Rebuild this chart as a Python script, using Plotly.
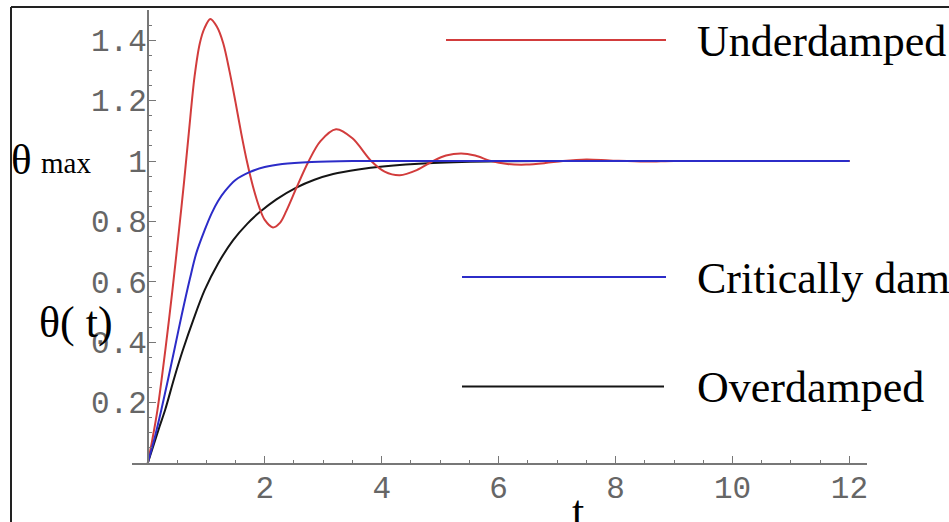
import plotly.graph_objects as go

# ---- data ----
t_under = [0, 0.08, 0.165, 0.30, 0.42, 0.536, 0.62, 0.70, 0.80, 0.89, 0.97, 1.07, 1.18, 1.29, 1.40,
           1.50, 1.60, 1.70, 1.80, 1.91, 2.00, 2.14, 2.26, 2.37, 2.54, 2.74, 2.95, 3.22, 3.5,
           3.82, 4.05, 4.31, 4.6, 4.88, 5.1, 5.36, 5.6, 5.87, 6.15, 6.47, 6.8, 7.1, 7.5, 7.9,
           8.5, 9.0, 10.0, 11.0, 12.0]
y_under = [0, 0.08, 0.175, 0.374, 0.57, 0.775, 0.93, 1.09, 1.28, 1.39, 1.44, 1.47, 1.445, 1.39, 1.295,
           1.195, 1.09, 0.995, 0.915, 0.845, 0.805, 0.78, 0.795, 0.835, 0.91, 0.995, 1.065, 1.105, 1.075,
           1.0, 0.965, 0.953, 0.97, 1.0, 1.018, 1.025, 1.018, 1.0, 0.99, 0.988, 0.993, 1.0, 1.005, 1.002,
           0.998, 1.0, 1.0, 1.0, 1.0]

t_crit = [0, 0.1, 0.23, 0.35, 0.46, 0.58, 0.72, 0.83, 0.974, 1.09, 1.2, 1.32, 1.5, 1.74, 2.0, 2.3,
          2.8, 3.5, 4.5, 6, 8, 10, 12]
y_crit = [0, 0.07, 0.175, 0.28, 0.38, 0.49, 0.61, 0.695, 0.772, 0.826, 0.867, 0.9, 0.937, 0.963,
          0.98, 0.99, 0.997, 1.0, 1.0, 1.0, 1.0, 1.0, 1.0]

t_over = [0, 0.1, 0.2, 0.30, 0.45, 0.60, 0.78, 0.974, 1.2, 1.46, 1.7, 1.91, 2.2, 2.54, 2.85, 3.17,
          3.6, 4.02, 4.88, 6, 7, 8, 10, 12]
y_over = [0, 0.06, 0.12, 0.178, 0.28, 0.374, 0.475, 0.573, 0.66, 0.738, 0.792, 0.83, 0.873, 0.912,
          0.938, 0.957, 0.972, 0.982, 0.993, 0.999, 1.0, 1.0, 1.0, 1.0]

x_ticks = [2, 4, 6, 8, 10, 12]
x_tick_labels = ["2", "4", "6", "8", "10", "12"]
y_ticks = [0.2, 0.4, 0.6, 0.8, 1.0, 1.2, 1.4]
y_tick_labels = ["0.2", "0.4", "0.6", "0.8", "1", "1.2", "1.4"]

series_names = ["Underdamped", "Critically damped", "Overdamped"]

RED = "#d23c3c"
BLUE = "#2c2cc8"
BLACK = "#151515"
AXIS = "#777777"

X_RANGE = [-0.27, 12.3]
Y_RANGE = [0, 1.5]

# pixel helpers for layout decorations (plot area: x 132..867, y 10..463)
L, R, T, B = 132, 867, 10, 463
def px(x):
    return (x - L) / (R - L)
def py(y):
    return (B - y) / (B - T)

fig = go.Figure()
fig.add_trace(go.Scatter(x=t_over, y=y_over, mode="lines", name=series_names[2],
                         line=dict(color=BLACK, width=2, shape="spline", smoothing=0.9)))
fig.add_trace(go.Scatter(x=t_under, y=y_under, mode="lines", name=series_names[0],
                         line=dict(color=RED, width=2, shape="spline", smoothing=0.9)))
fig.add_trace(go.Scatter(x=t_crit, y=y_crit, mode="lines", name=series_names[1],
                         line=dict(color=BLUE, width=2, shape="spline", smoothing=0.9)))

tickfont = dict(family="Liberation Mono", size=31, color="#666666")

fig.update_layout(
    width=949, height=522,
    margin=dict(l=L, r=949 - R, t=T, b=522 - B),
    paper_bgcolor="white", plot_bgcolor="white",
    showlegend=False,
    xaxis=dict(range=X_RANGE, showgrid=False, zeroline=False, showline=True,
               linecolor=AXIS, linewidth=1.5, ticks="inside", ticklen=7, tickwidth=1.2,
               tickcolor=AXIS, tickvals=x_ticks, ticktext=x_tick_labels, tickfont=tickfont,
               minor=dict(dtick=0.5, tick0=0, ticks="inside", ticklen=3.5, tickcolor=AXIS, tickwidth=1),
               ticklabelstandoff=-4),
    yaxis=dict(range=Y_RANGE, showgrid=False, zeroline=False, showline=True,
               anchor="free", position=(0 - X_RANGE[0]) / (X_RANGE[1] - X_RANGE[0]),
               linecolor=AXIS, linewidth=1.5, ticks="inside", ticklen=7, tickwidth=1.2,
               tickcolor=AXIS, tickvals=y_ticks, ticktext=y_tick_labels, tickfont=tickfont,
               minor=dict(dtick=0.05, tick0=0, ticks="inside", ticklen=3.5, tickcolor=AXIS, tickwidth=1),
               ticklabelstandoff=-6),
)

serif = "Liberation Serif"
leg_y = [41, 278.5, 387.5]
line_y = [40, 277, 386.5]
line_x0 = [446, 462, 462]
line_x1 = [666, 666, 664]
colors = [RED, BLUE, BLACK]
shapes = []
annotations = []
for name, ty, ly, x0, x1, c in zip(series_names, leg_y, line_y, line_x0, line_x1, colors):
    shapes.append(dict(type="line", xref="paper", yref="paper", x0=px(x0), x1=px(x1),
                       y0=py(ly), y1=py(ly), line=dict(color=c, width=2)))
    annotations.append(dict(text=name, xref="paper", yref="paper", x=px(695), y=py(ty),
                            xanchor="left", yanchor="middle", showarrow=False,
                            font=dict(family=serif, size=44, color="black")))

# frame of the picture
shapes.append(dict(type="line", xref="paper", yref="paper", x0=px(11), x1=px(11),
                   y0=py(7), y1=py(530), line=dict(color="#222222", width=2)))
shapes.append(dict(type="line", xref="paper", yref="paper", x0=px(11), x1=px(960),
                   y0=py(7), y1=py(7), line=dict(color="#222222", width=2)))

annotations += [
    dict(text="θ", xref="paper", yref="paper", x=px(9), y=py(159), xanchor="left", yanchor="middle",
         showarrow=False, font=dict(family=serif, size=43, color="black")),
    dict(text="max", xref="paper", yref="paper", x=px(39), y=py(163.5), xanchor="left", yanchor="middle",
         showarrow=False, font=dict(family=serif, size=29, color="black")),
    dict(text="θ( t)", xref="paper", yref="paper", x=px(37), y=py(322), xanchor="left", yanchor="middle",
         showarrow=False, font=dict(family=serif, size=44, color="black")),
    dict(text="t", xref="paper", yref="paper", x=px(578), y=py(511), xanchor="center", yanchor="middle",
         showarrow=False, font=dict(family=serif, size=44, color="black")),
]

fig.update_layout(shapes=shapes, annotations=annotations)
fig.write_html("out.html", config={"displayModeBar": False},
               post_script="document.body.style.margin='0';")
